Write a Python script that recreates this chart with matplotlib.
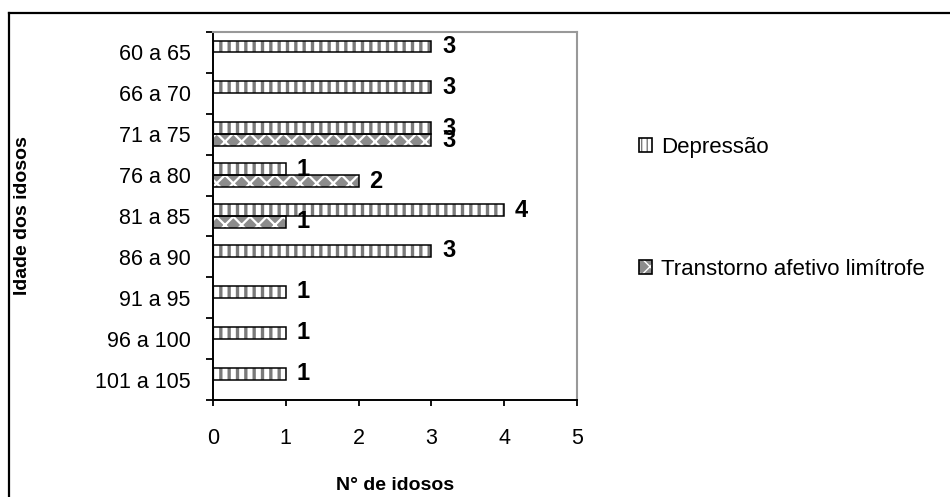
import numpy as np
import matplotlib.pyplot as plt
from matplotlib.lines import Line2D
from matplotlib.patches import Patch

plt.rcParams['font.family'] = ['Liberation Sans', 'DejaVu Sans']

# Faixas etárias e número de idosos por diagnóstico
faixas = ["60 a 65", "66 a 70", "71 a 75", "76 a 80", "81 a 85",
          "86 a 90", "91 a 95", "96 a 100", "101 a 105"]
depressao = [3, 3, 3, 1, 4, 3, 1, 1, 1]
transtorno = [0, 0, 3, 2, 1, 0, 0, 0, 0]
xticks = [0, 1, 2, 3, 4, 5]

W, H = 950, 497
fig = plt.figure(figsize=(W / 100, H / 100), dpi=100)
ax = fig.add_axes([213 / W, 1 - 400 / H, (577 - 213) / W, (400 - 32) / H])

y = np.arange(len(faixas))
h = 0.29

FONT = 15.5
GRAY_STRIPE = "#7a7a7a"
GRAY_FACE = "#8c8c8c"


def hatched_bars(ypos, vals, face, hatch, hcolor, hlw):
    with plt.rc_context({"hatch.linewidth": hlw}):
        ax.barh(ypos, vals, height=h, align="edge", color=face,
                edgecolor=hcolor, hatch=hatch, linewidth=0, zorder=2)
    ax.barh(ypos, vals, height=h, align="edge", fill=False,
            edgecolor="black", linewidth=1.1, zorder=3)


# Depressão: faixa superior de cada categoria
hatched_bars(y - h, depressao, "white", "||", GRAY_STRIPE, 2.4)
# Transtorno afetivo limítrofe: faixa inferior
t = np.array(transtorno)
mask = t > 0
hatched_bars(y[mask], t[mask], GRAY_FACE, "xx", "white", 1.6)

for yi, v in zip(y, depressao):
    ax.text(v + 0.15, yi - h / 2, str(v), va="center", ha="left",
            fontsize=17, fontweight="bold", zorder=4)
for yi, v in zip(y[mask], t[mask]):
    ax.text(v + 0.15, yi + h / 2, str(v), va="center", ha="left",
            fontsize=17, fontweight="bold", zorder=4)

ax.set_xlim(0, 5)
ax.set_ylim(len(faixas) - 0.5, -0.5)
ax.set_xticks(xticks)
ax.set_xticklabels([str(v) for v in xticks], fontsize=FONT)
ax.set_yticks(y)
ax.set_yticklabels(faixas, fontsize=FONT)
ax.set_yticks(np.arange(len(faixas) + 1) - 0.5, minor=True)

ax.tick_params(axis="x", direction="out", length=4, width=1.3, pad=16)
ax.tick_params(axis="y", which="major", length=0, pad=16)
ax.tick_params(axis="y", which="minor", direction="out", length=5, width=1.3)

for side in ["left", "bottom"]:
    ax.spines[side].set_color("black")
    ax.spines[side].set_linewidth(1.4)
for side in ["top", "right"]:
    ax.spines[side].set_color("#999999")
    ax.spines[side].set_linewidth(1.5)

fig.text(395 / W, 1 - 485 / H, "N° de idosos", ha="center", va="center",
         fontsize=14, fontweight="bold")
fig.text(23 / W, 1 - 216 / H, "Idade dos idosos", ha="center", va="center",
         rotation=90, fontsize=14, fontweight="bold")

# Legenda: padrão de preenchimento sobreposto a um contorno preto
with plt.rc_context({"hatch.linewidth": 1.5}):
    dep_fill = Patch(facecolor="white", edgecolor=GRAY_STRIPE, hatch="|||", linewidth=0)
    tra_fill = Patch(facecolor=GRAY_FACE, edgecolor="white", hatch="xx", linewidth=0)
outline = Patch(fill=False, edgecolor="black", linewidth=1.2)
leg = fig.legend(handles=[(dep_fill, outline), (tra_fill, outline)],
                 labels=["Depressão", "Transtorno afetivo limítrofe"],
                 loc="upper left", bbox_to_anchor=(628 / W, 1 - 126 / H),
                 frameon=False, fontsize=16, handlelength=0.6,
                 handleheight=0.6, handletextpad=0.4, labelspacing=4.55,
                 borderpad=0)

# Moldura externa do gráfico
fig.add_artist(Line2D([9 / W, 9 / W], [0, 1 - 13 / H], color="black", lw=1.6))
fig.add_artist(Line2D([9 / W, 1], [1 - 13 / H, 1 - 13 / H], color="black", lw=1.6))

fig.savefig("out.png", dpi=100)
